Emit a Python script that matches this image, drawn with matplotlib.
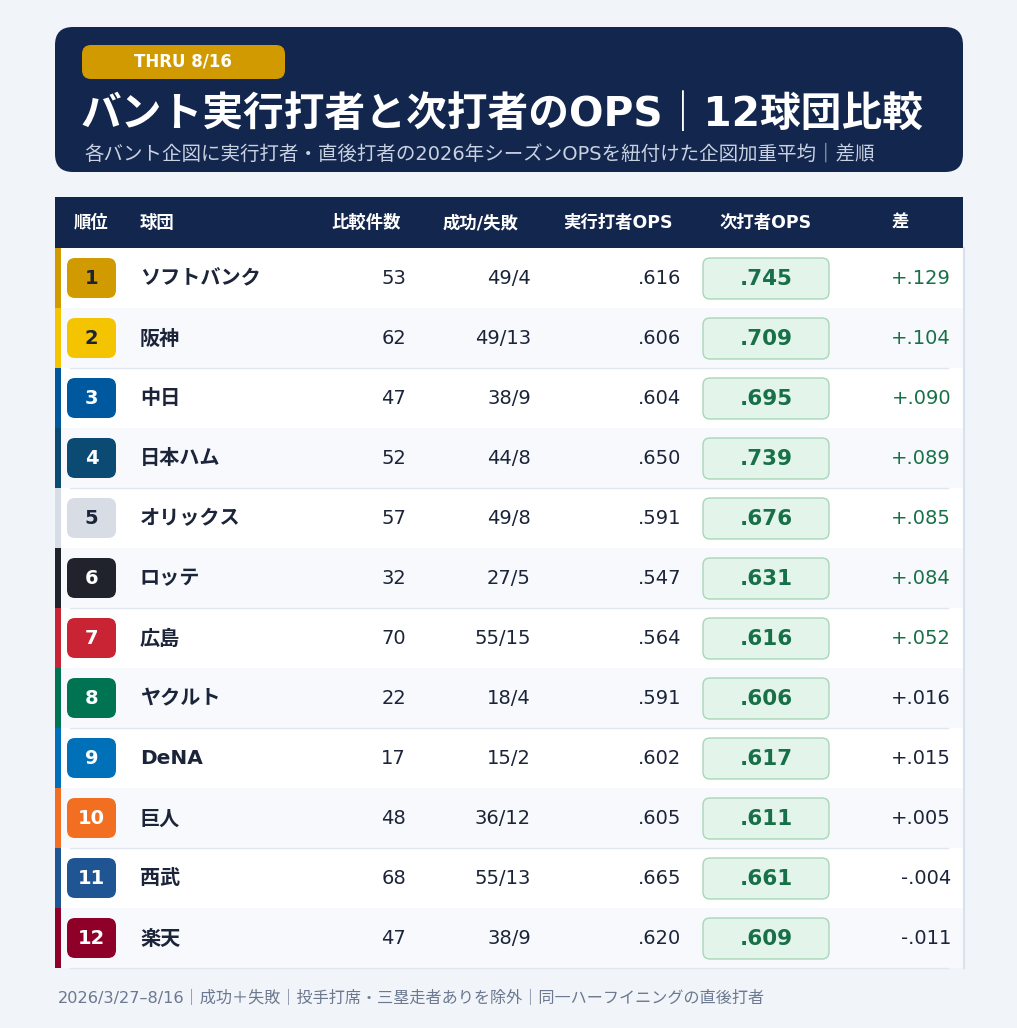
import matplotlib
matplotlib.use("Agg")
import matplotlib.pyplot as plt
from matplotlib.patches import FancyBboxPatch, Rectangle

plt.rcParams['font.family'] = ['DejaVu Sans', 'Noto Sans CJK JP']

ranks = [1, 2, 3, 4, 5, 6, 7, 8, 9, 10, 11, 12]
teams = ["ソフトバンク", "阪神", "中日", "日本ハム", "オリックス", "ロッテ",
         "広島", "ヤクルト", "DeNA", "巨人", "西武", "楽天"]
n_cases = [53, 62, 47, 52, 57, 32, 70, 22, 17, 48, 68, 47]
success = [49, 49, 38, 44, 49, 27, 55, 18, 15, 36, 55, 38]
fail = [4, 13, 9, 8, 8, 5, 15, 4, 2, 12, 13, 9]
bunter_ops = [.616, .606, .604, .650, .591, .547, .564, .591, .602, .605, .665, .620]
next_ops = [.745, .709, .695, .739, .676, .631, .616, .606, .617, .611, .661, .609]
diff = [.129, .104, .090, .089, .085, .084, .052, .016, .015, .005, -.004, -.011]
team_colors = ["#d19a00", "#f5c400", "#00589f", "#0b4a72", "#d7dce5", "#20232b",
               "#c92434", "#007452", "#0070b9", "#f26f22", "#1e5592", "#8e0028"]
dark_text_ranks = [1, 2, 5]

columns = ["順位", "球団", "比較件数", "成功/失敗", "実行打者OPS", "次打者OPS", "差"]

navy = "#13264d"
ink = "#1b2438"
green = "#187048"

W, H = 1017, 1028
fig = plt.figure(figsize=(W / 100, H / 100), dpi=100)
fig.patch.set_facecolor("#f1f4f9")
ax = fig.add_axes([0, 0, 1, 1])
ax.set_xlim(0, W)
ax.set_ylim(H, 0)
ax.axis("off")


def rbox(x, y, w, h, r, fc, ec="none", lw=0, z=2):
    p = FancyBboxPatch((x + r, y + r), w - 2 * r, h - 2 * r,
                       boxstyle="round,pad=%g" % r, fc=fc, ec=ec, lw=lw, zorder=z)
    ax.add_patch(p)


# header card
rbox(55, 27, 908, 145, 18, navy)
rbox(82, 45, 203, 34, 9, "#d19a00", z=3)
ax.text(183, 62, "THRU 8/16", color="white", fontsize=12, fontweight="bold",
        ha="center", va="center", zorder=4)
ax.text(81, 115, "バント実行打者と次打者のOPS｜12球団比較", color="white",
        fontsize=29.3, fontweight="bold", ha="left", va="center", zorder=4)
ax.text(84, 154, "各バント企図に実行打者・直後打者の2026年シーズンOPSを紐付けた企図加重平均｜差順",
        color="#c9d2e2", fontsize=14, ha="left", va="center", zorder=4)

# table header
ax.add_patch(Rectangle((55, 197), 908, 51, fc=navy, ec="none", zorder=2))
col_x = [91, 140, 366, 481, 618, 766, 900]
col_ha = ["center", "left", "center", "center", "center", "center", "center"]
for name, x, ha in zip(columns, col_x, col_ha):
    ax.text(x, 223, name, color="white", fontsize=12.5, fontweight="bold",
            ha=ha, va="center", zorder=4)

row_h = 60
top = 248
for i in range(len(teams)):
    y0 = top + i * row_h
    yc = y0 + row_h / 2
    bg = "white" if i % 2 == 0 else "#f7f9fd"
    ax.add_patch(Rectangle((55, y0), 908, row_h, fc=bg, ec="none", zorder=1))
    if i % 2 == 0 and i > 0:
        ax.plot([70, 948], [y0, y0], color="#e1e7f0", lw=1, zorder=2)
    ax.add_patch(Rectangle((55, y0), 6, row_h, fc=team_colors[i], ec="none", zorder=3))
    rbox(67, y0 + 10, 49, 40, 8, team_colors[i], z=3)
    num_col = ink if ranks[i] in dark_text_ranks else "white"
    ax.text(91.5, yc, str(ranks[i]), color=num_col, fontsize=14, fontweight="bold",
            ha="center", va="center", zorder=4)
    ax.text(140, yc + 1, teams[i], color=ink, fontsize=14.5, fontweight="bold",
            ha="left", va="center", zorder=4)
    ax.text(406, yc, str(n_cases[i]), color=ink, fontsize=14,
            ha="right", va="center", zorder=4)
    ax.text(531, yc, "%d/%d" % (success[i], fail[i]), color=ink, fontsize=14,
            ha="right", va="center", zorder=4)
    ax.text(681, yc, ("%.3f" % bunter_ops[i])[1:], color=ink, fontsize=14,
            ha="right", va="center", zorder=4)
    rbox(703, y0 + 10, 126, 41, 7, "#e3f4ea", ec="#a8d7b8", lw=1, z=3)
    ax.text(766, yc + 1, ("%.3f" % next_ops[i])[1:], color=green, fontsize=15.5,
            fontweight="bold", ha="center", va="center", zorder=4)
    d = ("+" if diff[i] >= 0 else "-") + ("%.3f" % abs(diff[i]))[1:]
    ax.text(951, yc, d, color=green if diff[i] >= 0.05 else ink, fontsize=14,
            ha="right", va="center", zorder=4)

bottom = top + len(teams) * row_h
ax.plot([70, 948], [bottom, bottom], color="#e1e7f0", lw=1, zorder=2)
ax.plot([963.5, 963.5], [top, bottom], color="#d9e1ec", lw=1.5, zorder=2)

ax.text(58, 998, "2026/3/27–8/16｜成功＋失敗｜投手打席・三塁走者ありを除外｜同一ハーフイニングの直後打者",
        color="#6b7890", fontsize=11.6, ha="left", va="center")

fig.savefig("out.png", dpi=100, facecolor=fig.get_facecolor())
